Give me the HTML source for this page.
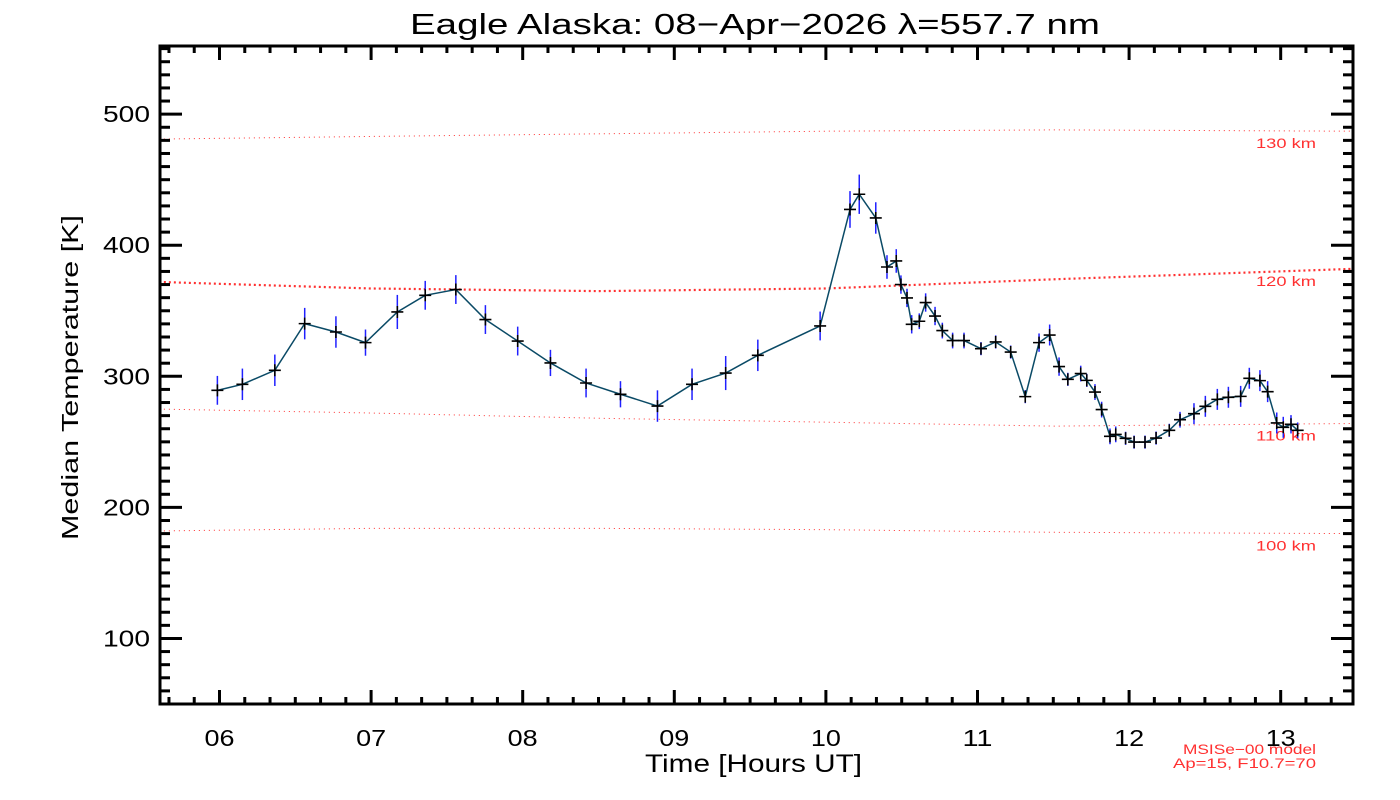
<!DOCTYPE html>
<html><head><meta charset="utf-8"><style>
body{margin:0;background:#fff;}
svg{display:block;font-family:"Liberation Sans","DejaVu Sans",sans-serif;}
</style></head><body>
<svg id="chart" width="1400" height="800" viewBox="0 0 1400 800">
<rect width="1400" height="800" fill="#fff"/>
<text x="410" y="34" font-size="29" textLength="690" lengthAdjust="spacingAndGlyphs" fill="#000">Eagle Alaska: 08−Apr−2026 λ=557.7 nm</text>
<text transform="translate(78,540) rotate(-90)" font-size="23" textLength="325" lengthAdjust="spacingAndGlyphs" fill="#000">Median Temperature [K]</text>
<text x="645" y="772" font-size="25" textLength="217" lengthAdjust="spacingAndGlyphs" fill="#000">Time [Hours UT]</text>
<text x="1183" y="754" font-size="14" textLength="133" lengthAdjust="spacingAndGlyphs" fill="#ff3030">MSISe−00 model</text>
<text x="1173" y="768" font-size="14" textLength="143" lengthAdjust="spacingAndGlyphs" fill="#ff3030">Ap=15, F10.7=70</text>
<g id="plot"></g>
</svg>
<script>
const hours=[5.986,6.151,6.365,6.562,6.768,6.963,7.173,7.357,7.559,7.754,7.967,8.183,8.418,8.645,8.889,9.117,9.339,9.551,9.962,10.159,10.220,10.329,10.403,10.464,10.495,10.535,10.566,10.616,10.658,10.720,10.768,10.836,10.911,11.023,11.120,11.219,11.315,11.406,11.476,11.538,11.596,11.681,11.721,11.775,11.819,11.874,11.912,11.977,12.033,12.105,12.178,12.265,12.336,12.428,12.503,12.582,12.655,12.736,12.793,12.863,12.914,12.974,13.017,13.068,13.112];
const temps=[289.3,293.9,304.6,340.2,333.8,325.7,349.1,361.8,366.2,343.3,326.9,310.2,294.9,286.3,277.3,293.9,302.5,316.0,338.4,427.3,438.9,420.8,383.4,388.0,370.0,359.8,339.7,342.0,356.3,346.0,334.9,327.3,327.3,321.1,326.2,318.5,284.5,325.7,331.5,307.4,297.7,302.1,296.9,288.0,274.6,254.2,255.7,252.7,249.8,249.8,252.9,258.8,266.9,271.5,277.1,282.4,284.0,284.7,298.5,296.7,288.3,264.4,261.1,263.4,258.8];
const errs=[11,12,12,12,12,10,13,11,11,11,11,10,11,10,12,12,13,12,11,14,15,12,9,9,7,7,7,6,7,7,6,6,6,5,5,5,5,7,8,7,5,6,5,6,6,6,6,5,5,5,5,5,6,8,8,8,8,8,8,8,8,8,8,7,6];
const modelHours=[5.6,7,8.5,10,11.5,13.48];
const model130=[481,483,485,487,488,487];
const model120=[372,367,365,367,374,382];
const model110=[275,272,268,265,262,264];
const model100=[182,184,184,183,181,180];
const yTicks=[100,200,300,400,500];
const xTickLabels=["06","07","08","09","10","11","12","13"];

const L=160,R=1353,T=46,B=704;
const X0=5.6075,X1=13.477,Y0=50,Y1=552;
const sx=h=>L+(h-X0)/(X1-X0)*(R-L);
const sy=v=>B-(v-Y0)/(Y1-Y0)*(B-T);
const NS="http://www.w3.org/2000/svg";
const g=document.getElementById('plot');
function mk(tag,attrs){const e=document.createElementNS(NS,tag);for(const k in attrs)e.setAttribute(k,attrs[k]);g.appendChild(e);return e;}

const models=[[model130,"130 km",1,"1,4"],[model120,"120 km",2.2,"2,3"],[model110,"110 km",1,"1,4"],[model100,"100 km",1,"1,4"]];
models.forEach(m=>{
  const pts=modelHours.map((h,i)=>sx(h)+","+sy(m[0][i])).join(" ");
  const p=mk('polyline',{points:pts,fill:"none",stroke:"#ff3030","stroke-width":m[2],"stroke-dasharray":m[3]});
  
  
  const t=mk('text',{x:1256,y:sy(m[0][m[0].length-1])+17,"font-size":14,textLength:60,lengthAdjust:"spacingAndGlyphs",fill:"#ff3030"});
  t.textContent=m[1];
  
  
});

hours.forEach((h,i)=>{
  const e=mk('line',{x1:sx(h),x2:sx(h),y1:sy(temps[i]-errs[i]),y2:sy(temps[i]+errs[i]),stroke:"#2020ff","stroke-width":1.5});
  
  
});
const line=mk('polyline',{points:hours.map((h,i)=>sx(h)+","+sy(temps[i])).join(" "),fill:"none",stroke:"#0a4a66","stroke-width":1.5});


hours.forEach((h,i)=>{
  const x=sx(h),y=sy(temps[i]);
  const p=mk('path',{d:`M${x-6},${y}H${x+6}M${x},${y-6}V${y+6}`,stroke:"#000","stroke-width":1.6});
  
  
});

const fr=mk('rect',{x:L,y:T,width:R-L,height:B-T,fill:"none",stroke:"#000","stroke-width":3});


for(let v=60;v<=550;v+=10){
  const major=v%100===0,len=major?22:10,y=sy(v);
  const a=mk('line',{x1:L,x2:L+len,y1:y,y2:y,stroke:"#000","stroke-width":3});
  
  
  const b=mk('line',{x1:R,x2:R-len,y1:y,y2:y,stroke:"#000","stroke-width":3});
  
  
}
yTicks.forEach(v=>{
  const t=mk('text',{x:103,y:sy(v)+8,"font-size":23,textLength:47,lengthAdjust:"spacingAndGlyphs",fill:"#000"});
  t.textContent=v;
  
  
});
for(let k=Math.ceil(X0*6);k<=Math.floor(X1*6);k++){
  const h=k/6,major=k%6===0,len=major?14:7,x=sx(h);
  const a=mk('line',{x1:x,x2:x,y1:B,y2:B-len,stroke:"#000","stroke-width":3});
  
  
  const b=mk('line',{x1:x,x2:x,y1:T,y2:T+len,stroke:"#000","stroke-width":3});
  
  
}
xTickLabels.forEach((s,i)=>{
  const t=mk('text',{x:sx(6+i)-15,y:746,"font-size":23,textLength:30,lengthAdjust:"spacingAndGlyphs",fill:"#000"});
  t.textContent=s;
  
  
});
</script>
</body></html>
